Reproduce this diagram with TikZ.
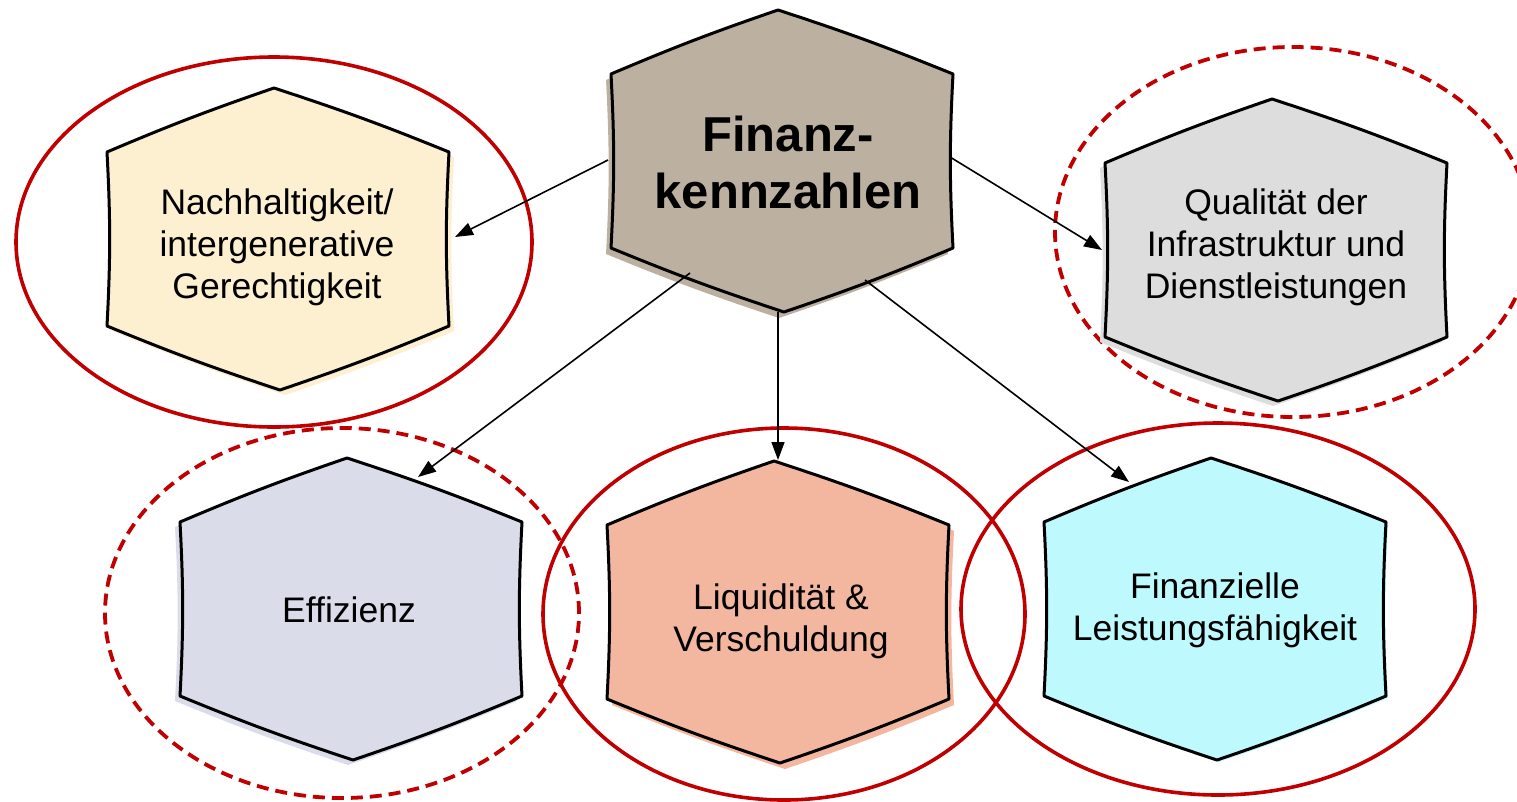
\documentclass[tikz,border=0pt]{standalone}
\usepackage{fontspec}
\setmainfont{Liberation Sans}
\usetikzlibrary{arrows.meta,calc}
\definecolor{cRed}{HTML}{C00000}
\definecolor{cFin}{HTML}{BCB1A0}
\definecolor{cNach}{HTML}{FDF0D0}
\definecolor{cQual}{HTML}{DDDDDD}
\definecolor{cEff}{HTML}{DADCEA}
\definecolor{cLiq}{HTML}{F3B7A0}
\definecolor{cFl}{HTML}{BEFAFD}
\newcommand\hexpath{(-171,-87) to[bend left=2] (-4,-151) to[bend left=2] (171,-87) to[bend right=3] (171,87) to[bend left=2] (2,151) to[bend left=2] (-171,87) to[bend right=3] (-171,-87) -- cycle}
\newcommand\hexa[3]{%
  \begin{scope}[shift={#1}]
    \fill[#2,shift={#3}] \hexpath;
    \filldraw[fill=#2,draw=black,line width=3pt,line join=round] \hexpath;
  \end{scope}}
\tikzset{
  txt/.style={align=center,font=\fontsize{35.5}{42}\selectfont,inner sep=0pt},
  bigtxt/.style={align=center,font=\fontsize{49}{57}\selectfont\bfseries,inner sep=0pt},
  ring/.style={draw=cRed,line width=3.6pt},
  dring/.style={draw=cRed,line width=3.8pt,dash pattern=on 12pt off 7pt},
  arr/.style={draw=black,line width=1.6pt,-{Triangle[length=18pt,width=13pt]}}
}
\begin{document}
\begin{tikzpicture}[x=1pt,y=-1pt]
\useasboundingbox (0,0) rectangle (1517,801);
\clip (0,0) rectangle (1517,801);
% rings
\draw[ring] (274,242) ellipse [x radius=258pt, y radius=185pt];
\draw[dring] (1293,232) ellipse [x radius=238pt, y radius=185pt];
\draw[dring] (342,613) ellipse [x radius=237pt, y radius=185pt];
\draw[ring] (784,614) ellipse [x radius=241pt, y radius=186pt];
\draw[ring] (1218,609) ellipse [x radius=257pt, y radius=186pt];
% hexagons
\hexa{(782,161)}{cFin}{(-5,6)}
\hexa{(278,239)}{cNach}{(5,5)}
\hexa{(1276,250)}{cQual}{(-5,5)}
\hexa{(351,609)}{cEff}{(-5,5)}
\hexa{(778,612)}{cLiq}{(5,6)}
\hexa{(1215,609)}{cFl}{(2,2)}
% texts
\node[bigtxt] (fin) at (788,162) {Finanz-\\kennzahlen};
\node[txt] (nach) at (277,247) {Nachhaltigkeit/\\intergenerative\\Gerechtigkeit};
\node[txt] (qual) at (1276,247) {Qualität der\\Infrastruktur und\\Dienstleistungen};
\node[txt] (eff) at (349,610) {Effizienz};
\node[txt] (liq) at (781,621) {Liquidität \&\\Verschuldung};
\node[txt] (fl) at (1215,610) {Finanzielle\\Leistungsfähigkeit};
% connector endpoints
\coordinate (fin-w) at (608,160);
\coordinate (fin-e) at (950,157);
\coordinate (fin-sw) at (690,273);
\coordinate (fin-s) at (778,312);
\coordinate (fin-se) at (865,280);
\coordinate (nach-e) at (455,237);
\coordinate (qual-w) at (1102,250);
\coordinate (eff-n) at (418,477);
\coordinate (liq-n) at (778,460);
\coordinate (fl-n) at (1129,482);
\draw[arr] (fin-w) -- (nach-e);
\draw[arr] (fin-e) -- (qual-w);
\draw[arr] (fin-sw) -- (eff-n);
\draw[arr] (fin-s) -- (liq-n);
\draw[arr] (fin-se) -- (fl-n);
\end{tikzpicture}
\end{document}
